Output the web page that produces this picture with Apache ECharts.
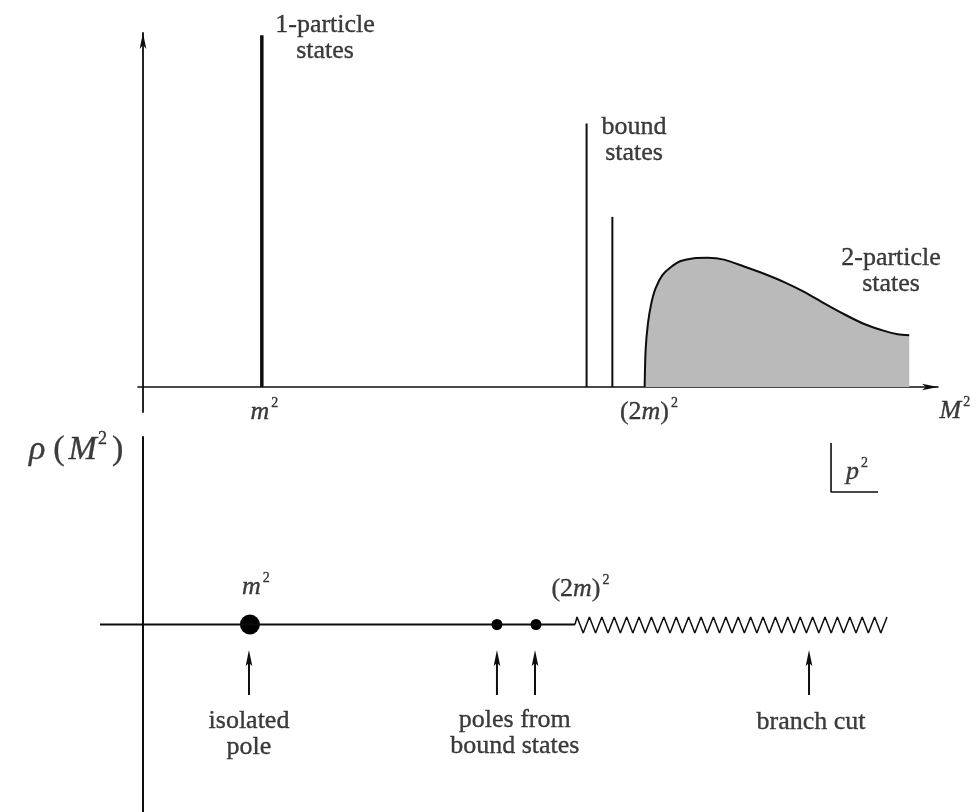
<!DOCTYPE html>
<html><head><meta charset="utf-8">
<script src="https://cdn.jsdelivr.net/npm/echarts@6.0.0/dist/echarts.min.js"></script>
<style>html,body{margin:0;padding:0;background:#fff}#c{width:978px;height:812px}</style>
</head><body><div id="c"></div>
<script>
// ---------- Top panel: spectral density rho(M^2) ----------
const oneParticle = [14.8, 97.2];                       // [M^2, height]
const boundStates = [[55.24, 72.8], [58.45, 47.0]];     // [M^2, height]
const twoParticleX = [62.47, 62.59, 62.88, 63.30, 63.84, 64.68, 65.71, 66.96, 68.62, 70.29, 72.36, 74.85, 77.34, 79.84, 82.33, 84.83, 87.32, 89.81, 92.31, 93.98, 95.42];
const twoParticleY = [0, 10.2, 17.6, 23.1, 27.3, 30.9, 33.1, 34.8, 35.6, 35.7, 35.2, 33.3, 31.3, 29.0, 26.3, 23.1, 20.1, 17.4, 15.5, 14.6, 14.3];

// ---------- Bottom panel: complex p^2 plane ----------
const isolatedPole = [13.32, 0];
const boundPoles = [[44.08, 0], [48.94, 0]];
const realAxis = [[-5.35, 0], [53.8, 0]];
const branchCut = [[53.80,0],[54.05,4.0],[54.82,-4.5],[55.59,4.0],[56.36,-4.5],[57.14,4.0],[57.91,-4.5],[58.68,4.0],[59.45,-4.5],[60.23,4.0],[61.00,-4.5],[61.77,4.0],[62.54,-4.5],[63.31,4.0],[64.08,-4.5],[64.86,4.0],[65.63,-4.5],[66.40,4.0],[67.17,-4.5],[67.95,4.0],[68.72,-4.5],[69.49,4.0],[70.26,-4.5],[71.03,4.0],[71.80,-4.5],[72.58,4.0],[73.35,-4.5],[74.12,4.0],[74.89,-4.5],[75.67,4.0],[76.44,-4.5],[77.21,4.0],[77.98,-4.5],[78.75,4.0],[79.52,-4.5],[80.30,4.0],[81.07,-4.5],[81.84,4.0],[82.61,-4.5],[83.39,4.0],[84.16,-4.5],[84.93,4.0],[85.70,-4.5],[86.47,4.0],[87.24,-4.5],[88.02,4.0],[88.79,-4.5],[89.56,4.0],[90.33,-4.5],[91.11,4.0],[91.88,-4.5],[92.65,4.0]];
const arrowX = [13.2, 44.08, 48.82, 82.94];
const arrowTailTip = [-37.6, -13.6];
const p2Bracket = [[85.68, 96.8], [85.68, 70.7], [91.53, 70.7]];

// ---------- Text annotations ----------
const topTexts = [
  [22.67, 96.4, '1-particle\nstates'],
  [61.15, 68.2, 'bound\nstates'],
  [93.15, 32.0, '2-particle\nstates'],
  [15.13, -7.0, '{i|m}{s|2}'],
  [63.01, -6.9, '{n|(2}{i|m}{n|)}{s|2}'],
  [101.1, -6.6, '{i|M}{s|2}']
];
const bottomTexts = [
  [-8.2, 93.1, '{r|ρ}{p|(}{M|M}{t|2}{p|)}'],
  [14.07, 20.0, '{i|m}{s|2}'],
  [54.48, 18.6, '{n|(2}{i|m}{n|)}{s|2}'],
  [13.2, -58.4, 'isolated\npole'],
  [46.3, -57.9, 'poles from\nbound states'],
  [83.19, -52.0, 'branch cut'],
  [88.9, 81.3, '{i|p}{s|2}']
];

const INK = '#0d0d0d';
const SERIF = '"Liberation Serif", "DejaVu Serif", serif';
const bold = {textBorderColor: INK, textBorderWidth: 0.35};
const rich = {
  i: Object.assign({fontFamily: SERIF, fontStyle: 'italic', fontSize: 26, lineHeight: 32, color: INK}, bold),
  n: Object.assign({fontFamily: SERIF, fontSize: 26, lineHeight: 32, color: INK}, bold),
  s: Object.assign({fontFamily: SERIF, fontSize: 14, lineHeight: 12, verticalAlign: 'top', color: INK, padding: [0, 0, 0, 2]}, bold),
  r: Object.assign({fontFamily: SERIF, fontStyle: 'italic', fontSize: 34, lineHeight: 40, color: INK, padding: [0, 6, 0, 0]}, bold),
  p: Object.assign({fontFamily: SERIF, fontSize: 34, lineHeight: 40, color: INK, padding: [0, 2, 0, 2]}, bold),
  M: Object.assign({fontFamily: SERIF, fontStyle: 'italic', fontSize: 34, lineHeight: 40, color: INK, padding: [0, 1, 0, 2]}, bold),
  t: Object.assign({fontFamily: SERIF, fontSize: 18, lineHeight: 14, verticalAlign: 'top', color: INK, padding: [0, 3, 0, 0]}, bold)
};
const textSeries = (list, xi) => ({
  type: 'scatter', xAxisIndex: xi, yAxisIndex: xi, symbolSize: 0, clip: false, silent: true,
  data: list.map(t => ({value: [t[0], t[1]], label: {formatter: t[2]}})),
  label: Object.assign({show: true, position: 'inside', fontFamily: SERIF, fontSize: 26, lineHeight: 26, color: INK, align: 'center', verticalAlign: 'middle', rich: rich}, bold),
  emphasis: {disabled: true}
});
const stick = (pt, w) => ({
  type: 'line', xAxisIndex: 0, yAxisIndex: 0, symbol: 'none', silent: true,
  data: [[pt[0], 0], [pt[0], pt[1]]], lineStyle: {color: INK, width: w}
});

const chart = echarts.init(document.getElementById('c'), null, {renderer: 'canvas'});
const hideAxis = {axisTick: {show: false}, axisLabel: {show: false}, splitLine: {show: false}};
chart.setOption({
  animation: false,
  backgroundColor: '#ffffff',
  grid: [
    {left: 138, right: 40, top: 33, bottom: 400},
    {left: 100, right: 40, top: 437, bottom: 0}
  ],
  xAxis: [
    Object.assign({type: 'value', gridIndex: 0, min: -0.62, max: 99.0,
      axisLine: {show: true, onZero: true, symbol: ['none', 'arrow'], symbolSize: [5, 16], lineStyle: {color: INK, width: 1.6}}}, hideAxis),
    Object.assign({type: 'value', gridIndex: 1, min: -5.35, max: 99.0, axisLine: {show: false}}, hideAxis)
  ],
  yAxis: [
    Object.assign({type: 'value', gridIndex: 0, min: -6.9, max: 97.8,
      axisLine: {show: true, onZero: true, symbol: ['none', 'arrow'], symbolSize: [5, 16], lineStyle: {color: INK, width: 1.8}}}, hideAxis),
    Object.assign({type: 'value', gridIndex: 1, min: -100, max: 100,
      axisLine: {show: true, onZero: true, lineStyle: {color: INK, width: 2}}}, hideAxis)
  ],
  series: [
    // top panel
    {
      type: 'line', xAxisIndex: 0, yAxisIndex: 0, symbol: 'none', silent: true,
      smooth: 0.25,
      data: twoParticleX.map((x, i) => [x, twoParticleY[i]]),
      lineStyle: {color: INK, width: 2},
      areaStyle: {color: '#bababa', opacity: 1}
    },
    stick(oneParticle, 3.5),
    stick(boundStates[0], 2),
    stick(boundStates[1], 2),
    textSeries(topTexts, 0),
    // bottom panel
    {type: 'line', xAxisIndex: 1, yAxisIndex: 1, symbol: 'none', silent: true, data: realAxis, lineStyle: {color: INK, width: 1.8}},
    {type: 'line', xAxisIndex: 1, yAxisIndex: 1, symbol: 'none', silent: true, data: branchCut, lineStyle: {color: INK, width: 1.5}},
    {type: 'line', xAxisIndex: 1, yAxisIndex: 1, symbol: 'none', silent: true, data: p2Bracket, lineStyle: {color: INK, width: 1.6}},
    {type: 'scatter', xAxisIndex: 1, yAxisIndex: 1, silent: true, symbolSize: 20, data: [isolatedPole], itemStyle: {color: '#000', opacity: 1}},
    {type: 'scatter', xAxisIndex: 1, yAxisIndex: 1, silent: true, symbolSize: 11, data: boundPoles, itemStyle: {color: '#000', opacity: 1}},
    {
      type: 'custom', xAxisIndex: 1, yAxisIndex: 1, silent: true, clip: false,
      data: arrowX.map(x => [x, arrowTailTip[0], arrowTailTip[1]]),
      renderItem: function (params, api) {
        const tail = api.coord([api.value(0), api.value(1)]);
        const tip = api.coord([api.value(0), api.value(2)]);
        const hl = 16, hw = 3.3;
        return {type: 'group', children: [
          {type: 'line', shape: {x1: tail[0], y1: tail[1], x2: tip[0], y2: tip[1] + hl - 3}, style: {stroke: INK, lineWidth: 2}},
          {type: 'polygon', shape: {points: [[tip[0], tip[1]], [tip[0] - hw, tip[1] + hl], [tip[0], tip[1] + hl - 3], [tip[0] + hw, tip[1] + hl]]}, style: {fill: INK}}
        ]};
      }
    },
    textSeries(bottomTexts, 1)
  ]
});
</script>
</body></html>
